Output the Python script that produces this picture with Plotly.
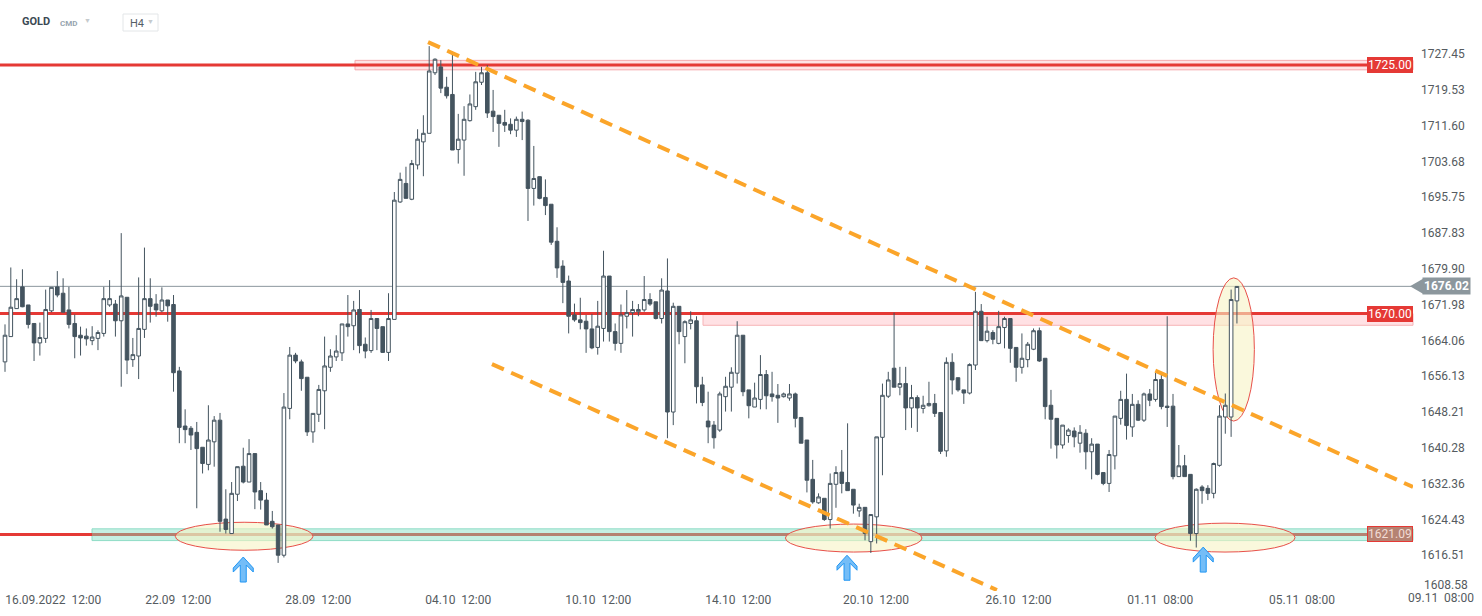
import plotly.graph_objects as go

# ---------------- data (H4 GOLD candles) ----------------
opens = [1659.3,1664.9,1671.1,1675.9,1671.9,1667.8,1663.5,1664.5,1670.6,1675.9,1674.5,1670.8,1667.8,1665.2,1665.0,1664.0,1664.5,1665.6,1671.9,1672.1,
 1668.4,1673.6,1659.8,1660.6,1666.5,1673.3,1672.1,1670.6,1673.0,1672.0,1657.3,1645.1,1644.6,1643.7,1640.4,1636.6,1641.6,1646.4,1624.5,1621.3,
 1630.0,1636.2,1632.7,1639.0,1630.8,1628.7,1624.0,1623.2,1616.5,1649.0,1660.8,1659.3,1655.9,1643.8,1647.7,1652.9,1658.1,1660.4,1661.3,1667.7,
 1667.3,1670.9,1663.2,1661.8,1668.9,1667.1,1661.4,1668.7,1694.7,1698.8,1695.3,1702.9,1708.0,1709.9,1723.3,1724.6,1720.1,1718.5,1706.3,1708.4,
 1712.7,1715.8,1721.2,1723.3,1714.8,1713.9,1712.3,1711.9,1710.6,1713.0,1712.8,1697.7,1700.3,1695.7,1694.2,1686.0,1680.5,1677.2,1669.7,1668.6,
 1668.3,1666.6,1662.5,1666.7,1678.3,1666.0,1663.4,1669.4,1670.2,1670.4,1670.8,1673.1,1672.6,1668.9,1675.0,1648.2,1671.6,1664.9,1667.8,1668.4,
 1654.2,1646.2,1645.3,1644.2,1651.6,1653.7,1656.8,1665.2,1653.1,1649.3,1651.0,1656.5,1652.2,1651.9,1651.6,1651.3,1652.2,1647.0,1642.0,1633.3,
 1628.1,1629.1,1624.4,1632.2,1634.9,1632.6,1631.1,1626.3,1627.1,1619.5,1625.0,1642.6,1651.7,1657.9,1653.7,1654.5,1649.1,1651.4,1649.0,1649.6,
 1650.1,1648.1,1639.6,1659.2,1655.8,1653.1,1652.4,1658.6,1670.5,1664.0,1665.8,1663.4,1666.9,1668.9,1662.5,1658.1,1659.8,1662.1,1666.2,1660.1,
 1649.7,1646.8,1640.9,1643.0,1644.0,1641.3,1643.5,1639.4,1641.1,1634.8,1632.4,1638.5,1646.8,1651.0,1644.9,1649.9,1646.4,1652.2,1651.0,1655.4,
 1649.5,1649.5,1633.9,1636.3,1634.4,1621.3,1631.6,1631.3,1630.2,1636.4,1647.1,1647.1,1672.8]
highs = [1667.6,1680.2,1677.6,1679.8,1671.9,1667.8,1668.0,1675.3,1675.8,1679.4,1677.8,1675.9,1669.8,1667.1,1666.7,1667.2,1666.3,1675.9,1677.4,1673.0,
 1687.8,1673.6,1664.6,1678.0,1684.6,1677.8,1674.3,1675.8,1673.0,1674.1,1658.2,1648.8,1645.1,1646.0,1640.4,1649.7,1647.3,1648.0,1631.1,1632.7,
 1636.1,1640.3,1642.2,1639.0,1632.7,1630.3,1626.3,1623.2,1652.4,1662.6,1661.3,1659.8,1655.9,1647.9,1654.2,1664.9,1662.1,1665.2,1667.7,1674.1,
 1672.8,1675.2,1664.7,1670.8,1668.9,1667.1,1674.5,1696.9,1701.2,1702.5,1704.0,1710.8,1713.9,1729.2,1726.5,1726.1,1722.4,1728.0,1714.2,1715.9,
 1718.5,1723.5,1724.6,1725.0,1719.5,1713.9,1715.1,1713.2,1713.6,1714.7,1713.0,1707.1,1700.4,1699.7,1694.2,1689.1,1681.8,1678.4,1672.2,1673.5,
 1669.7,1669.9,1672.8,1683.9,1678.3,1667.8,1672.0,1675.2,1672.8,1672.1,1678.3,1674.5,1672.6,1677.8,1682.2,1672.4,1671.6,1668.5,1670.5,1669.4,
 1656.0,1652.7,1646.2,1652.7,1656.0,1658.1,1668.3,1665.2,1653.1,1654.7,1660.8,1657.5,1657.1,1654.4,1652.5,1654.4,1652.5,1647.0,1642.0,1637.6,
 1630.2,1629.1,1634.6,1636.2,1639.8,1645.7,1631.1,1627.9,1627.1,1625.5,1642.7,1654.5,1657.1,1670.2,1658.2,1658.2,1654.2,1651.9,1651.8,1654.9,
 1652.2,1648.1,1660.3,1661.2,1655.8,1653.1,1659.0,1674.8,1672.1,1669.3,1666.3,1670.6,1669.3,1668.9,1662.5,1665.6,1663.7,1666.7,1666.9,1660.1,
 1653.1,1646.8,1645.3,1644.6,1644.8,1645.3,1644.4,1642.4,1641.1,1634.8,1639.8,1647.3,1652.9,1656.7,1652.2,1650.8,1652.5,1653.3,1656.9,1656.7,
 1669.4,1652.2,1640.9,1638.7,1634.4,1631.3,1632.0,1632.0,1637.0,1649.7,1652.3,1675.3,1676.0]
lows = [1657.1,1664.9,1671.1,1671.4,1666.7,1659.5,1660.7,1663.5,1670.3,1673.6,1670.3,1666.7,1660.1,1660.7,1662.9,1663.0,1661.9,1664.9,1671.5,1664.9,
 1653.8,1656.6,1658.2,1655.5,1664.6,1668.0,1669.3,1670.3,1668.2,1652.7,1641.3,1641.3,1639.8,1626.9,1634.6,1635.3,1636.1,1621.7,1621.3,1621.3,
 1628.5,1632.4,1632.7,1626.7,1626.6,1623.2,1622.4,1614.8,1616.0,1646.6,1659.0,1652.9,1642.9,1641.4,1646.0,1644.4,1657.1,1659.5,1659.5,1664.9,
 1661.9,1661.2,1660.1,1661.3,1661.9,1661.3,1659.5,1668.7,1694.5,1695.5,1695.1,1701.9,1700.4,1709.9,1722.8,1718.8,1717.6,1706.2,1703.2,1700.5,
 1712.5,1715.1,1720.6,1713.3,1710.2,1706.9,1710.2,1709.7,1709.1,1708.4,1690.5,1693.9,1695.3,1691.8,1685.2,1677.9,1672.3,1665.6,1668.2,1666.5,
 1661.3,1662.1,1660.9,1663.8,1663.8,1661.8,1661.3,1666.7,1664.9,1669.4,1670.4,1671.7,1668.7,1667.8,1642.4,1645.3,1663.2,1659.0,1666.5,1650.1,
 1649.5,1641.3,1640.1,1643.8,1648.3,1648.3,1654.5,1651.7,1646.8,1649.3,1648.8,1648.8,1650.5,1645.8,1651.4,1650.7,1644.8,1641.3,1630.4,1627.9,
 1627.9,1624.1,1622.4,1627.0,1630.2,1630.8,1625.7,1625.0,1619.8,1617.0,1619.1,1634.2,1651.3,1653.7,1651.9,1644.2,1644.7,1643.8,1647.9,1649.4,
 1647.1,1638.9,1638.3,1652.1,1652.7,1650.0,1652.1,1657.5,1664.0,1663.6,1663.2,1663.2,1662.3,1659.1,1654.9,1656.7,1658.1,1661.9,1659.3,1646.6,
 1640.1,1637.9,1640.1,1641.4,1640.4,1639.2,1635.5,1633.3,1634.2,1632.0,1630.5,1635.5,1645.4,1642.1,1642.7,1646.2,1646.0,1649.5,1650.5,1648.8,
 1644.9,1633.3,1633.9,1633.9,1619.7,1618.2,1627.9,1628.7,1629.1,1636.1,1643.4,1642.7,1667.8]
closes = [1665.2,1671.4,1673.3,1671.5,1667.6,1663.5,1664.7,1670.9,1675.8,1674.1,1670.3,1667.6,1664.9,1664.6,1664.4,1664.8,1665.8,1673.3,1673.3,1668.4,
 1673.9,1659.7,1660.9,1666.7,1673.3,1671.6,1670.8,1673.0,1671.7,1656.9,1644.8,1644.3,1643.1,1640.1,1636.8,1642.0,1646.4,1624.0,1622.2,1630.2,
 1636.1,1632.7,1639.0,1630.5,1628.7,1623.2,1622.8,1616.5,1649.3,1660.8,1659.5,1655.6,1643.8,1647.9,1653.2,1658.4,1660.6,1661.7,1667.7,1667.1,
 1670.8,1662.9,1661.7,1668.9,1666.7,1661.4,1668.9,1695.1,1699.7,1695.5,1703.2,1708.6,1709.9,1723.7,1726.3,1719.9,1718.2,1706.2,1708.6,1713.0,
 1716.4,1721.3,1723.3,1714.4,1713.6,1712.1,1711.7,1710.6,1713.0,1712.5,1697.7,1699.9,1695.5,1693.9,1685.8,1680.1,1676.9,1669.4,1668.6,1668.0,
 1666.6,1662.4,1667.2,1678.3,1666.0,1663.4,1669.7,1670.2,1670.9,1670.9,1673.1,1672.1,1668.9,1675.2,1648.2,1671.6,1666.0,1668.2,1668.6,1653.8,
 1650.3,1644.9,1642.5,1652.2,1653.9,1657.0,1665.2,1652.7,1649.6,1651.3,1656.5,1651.8,1651.6,1651.3,1652.2,1652.2,1646.8,1641.3,1633.1,1628.3,
 1629.4,1624.4,1632.4,1634.8,1632.4,1630.8,1627.6,1627.1,1621.3,1625.5,1642.7,1651.9,1655.3,1653.7,1654.5,1649.1,1651.4,1649.1,1649.7,1650.1,
 1647.9,1639.5,1659.2,1655.3,1653.1,1652.4,1658.7,1670.5,1664.0,1666.1,1664.3,1667.1,1668.9,1662.3,1658.1,1660.1,1663.2,1666.2,1659.5,1649.4,
 1646.6,1640.9,1645.3,1644.2,1642.7,1643.7,1639.4,1641.1,1634.4,1632.4,1638.8,1647.3,1651.0,1645.2,1649.9,1646.4,1652.2,1650.8,1655.4,1649.4,
 1649.2,1633.9,1636.3,1633.9,1621.3,1631.1,1630.8,1630.2,1636.8,1647.3,1649.7,1673.1,1676.0]
bars = list(range(len(closes)))

# x-axis labels (bar index positions) and y-axis labels
date_pos = [8.3, 29.8, 53.9, 78.0, 102.1, 126.2, 149.9, 174.4, 198.8, 223.2]
date_text = ["16.09.2022\u00a0 12:00", "22.09\u00a0 12:00", "28.09\u00a0 12:00", "04.10\u00a0 12:00",
             "10.10\u00a0 12:00", "14.10\u00a0 12:00", "20.10\u00a0 12:00", "26.10\u00a0 12:00",
             "01.11\u00a0 08:00", "05.11\u00a0 08:00"]
last_date_text = "09.11\u00a0 08:00"
price_ticks = [1616.51, 1624.43, 1632.36, 1640.28, 1648.21, 1656.13, 1664.06,
               1671.98, 1679.90, 1687.83, 1695.75, 1703.68, 1711.60, 1719.53, 1727.45]
bottom_price_label = 1608.58

# horizontal levels / drawing objects
resistance_top = 1725.00
resistance_mid = 1670.00
support = 1621.09
last_price = 1676.02
upper_trend = [(72.8, 1730.1), (242.3, 1631.6)]
lower_trend = [(83.8, 1658.8), (170.7, 1608.8)]
ellipses = [(29.3, 53.0, 1617.6, 1623.8), (134.3, 157.8, 1617.2, 1623.4),
            (197.9, 222.0, 1617.2, 1623.6), (207.9, 215.0, 1646.2, 1677.9)]
arrow_tips = [(41.0, 1616.1), (144.9, 1616.5), (206.2, 1618.3)]

# ---------------- figure ----------------
W, H = 1482, 616
PLOT_W, PLOT_H = 1413, 591
CANDLE = "#44545f"
RED = "#e53935"
ORANGE = "#fba52a"
TXT = "#555b60"
FONT = "Roboto, Arial, sans-serif"


def px(x):
    return x / PLOT_W


def py(y):
    return 1 - y / PLOT_H


fig = go.Figure()
fig.add_trace(go.Candlestick(
    x=bars, open=opens, high=highs, low=lows, close=closes,
    increasing=dict(line=dict(color=CANDLE, width=1), fillcolor="#ffffff"),
    decreasing=dict(line=dict(color=CANDLE, width=1), fillcolor=CANDLE),
    whiskerwidth=0, showlegend=False, hoverinfo="skip"))

shapes = []
# 1725 zone
shapes.append(dict(type="rect", xref="paper", yref="y", x0=px(355), x1=1,
                   y0=resistance_top - 1.05, y1=resistance_top + 1.05,
                   fillcolor="rgba(255,190,195,0.45)", line=dict(color="#f5a9ad", width=1), layer="below"))
shapes.append(dict(type="line", xref="paper", yref="y", x0=0, x1=1, y0=resistance_top, y1=resistance_top,
                   line=dict(color=RED, width=3), layer="below"))
# 1670 zone
shapes.append(dict(type="rect", xref="paper", yref="y", x0=px(703), x1=1,
                   y0=resistance_mid - 2.6, y1=resistance_mid,
                   fillcolor="rgba(255,200,205,0.55)", line=dict(color="#f6b3b6", width=1), layer="below"))
shapes.append(dict(type="line", xref="paper", yref="y", x0=0, x1=1, y0=resistance_mid, y1=resistance_mid,
                   line=dict(color=RED, width=3), layer="below"))
# support zone 1621.09
shapes.append(dict(type="rect", xref="paper", yref="y", x0=px(92), x1=1,
                   y0=support - 1.35, y1=support + 1.25,
                   fillcolor="rgba(150,228,205,0.55)", line=dict(color="#8fdcc6", width=1), layer="below"))
shapes.append(dict(type="line", xref="paper", yref="y", x0=0, x1=px(92), y0=support, y1=support,
                   line=dict(color=RED, width=3), layer="below"))
shapes.append(dict(type="line", xref="paper", yref="y", x0=px(92), x1=1, y0=support, y1=support,
                   line=dict(color="#b58272", width=3), layer="below"))
# last price line
shapes.append(dict(type="line", xref="paper", yref="y", x0=0, x1=1, y0=last_price, y1=last_price,
                   line=dict(color="#8c979d", width=1), layer="below"))
# ellipses
for (a, b, c, d) in ellipses:
    shapes.append(dict(type="circle", xref="x", yref="y", x0=a, x1=b, y0=c, y1=d,
                       fillcolor="rgba(246,243,196,0.6)", line=dict(color="#e8504a", width=1), layer="below"))
# orange trend lines
for seg in (upper_trend, lower_trend):
    shapes.append(dict(type="line", xref="x", yref="y", x0=seg[0][0], y0=seg[0][1], x1=seg[1][0], y1=seg[1][1],
                       line=dict(color=ORANGE, width=4, dash="13px,8px"), layer="above"))
# blue arrows
arrow_path = "M 0 0 L 10 -11 L 10 -15 L 3 -8 L 3 -25 L -3 -25 L -3 -8 L -10 -15 L -10 -11 Z"
for (ax_, ay_) in arrow_tips:
    shapes.append(dict(type="path", xref="x", yref="y", xsizemode="pixel", ysizemode="pixel",
                       xanchor=ax_, yanchor=ay_, path=arrow_path,
                       fillcolor="#74bdf7", line=dict(color="#2196f3", width=1), layer="above"))
# last price badge arrow
shapes.append(dict(type="path", xref="paper", yref="y", xsizemode="pixel", ysizemode="pixel",
                   xanchor=1, yanchor=last_price, path="M -3 0 L 10 7.5 L 10 -7.5 Z",
                   fillcolor="#8c979d", line=dict(width=0)))
# header H4 box
shapes.append(dict(type="rect", xref="paper", yref="paper", x0=px(123), x1=px(158), y0=py(31), y1=py(14),
                   line=dict(color="#e3e6e8", width=1), fillcolor="rgba(0,0,0,0)"))

annotations = []
annotations.append(dict(xref="paper", yref="paper", x=px(20), y=py(22), xanchor="left", yanchor="middle",
                        text="<b>GOLD</b>", showarrow=False, font=dict(family=FONT, size=11, color="#3b4954")))
annotations.append(dict(xref="paper", yref="paper", x=px(58), y=py(23), xanchor="left", yanchor="middle",
                        text="<b>CMD</b>", showarrow=False, font=dict(family=FONT, size=8, color="#97a5b0")))
annotations.append(dict(xref="paper", yref="paper", x=px(87), y=py(21), xanchor="center", yanchor="middle",
                        text="\u25BC", showarrow=False, font=dict(family=FONT, size=7, color="#c5cacd")))
annotations.append(dict(xref="paper", yref="paper", x=px(128), y=py(23), xanchor="left", yanchor="middle",
                        text="H4", showarrow=False, font=dict(family=FONT, size=11, color="#555e66")))
annotations.append(dict(xref="paper", yref="paper", x=px(150), y=py(22), xanchor="center", yanchor="middle",
                        text="\u25BC", showarrow=False, font=dict(family=FONT, size=7, color="#c5cacd")))
# level badges
for lvl, bg, fc, bc in [(resistance_top, RED, "#ffffff", RED), (resistance_mid, RED, "#ffffff", RED),
                        (support, "#b58272", "#f2dcd5", RED)]:
    annotations.append(dict(xref="paper", yref="y", x=1, y=lvl, xanchor="right", yanchor="middle",
                            text=f"{lvl:.2f}", showarrow=False, bgcolor=bg, bordercolor=bc, borderwidth=1,
                            borderpad=0, font=dict(family=FONT, size=12, color=fc)))
annotations.append(dict(xref="paper", yref="y", x=1, y=last_price, xanchor="left", yanchor="middle", xshift=9,
                        text=f"<b>{last_price:.2f}</b>", showarrow=False, bgcolor="#8c979d", borderpad=1,
                        font=dict(family=FONT, size=12, color="#ffffff")))
annotations.append(dict(xref="paper", yref="paper", x=px(1422), y=py(585), xanchor="left", yanchor="middle",
                        text=f"{bottom_price_label:.2f}", showarrow=False, font=dict(family=FONT, size=12, color=TXT)))
annotations.append(dict(xref="paper", yref="paper", x=px(1476), y=py(598), xanchor="right", yanchor="middle",
                        text=last_date_text, showarrow=False, font=dict(family=FONT, size=12, color=TXT)))

fig.update_layout(
    width=W, height=H, margin=dict(l=0, r=W - PLOT_W, t=0, b=H - PLOT_H),
    paper_bgcolor="#ffffff", plot_bgcolor="#ffffff", showlegend=False,
    boxgap=0.12, shapes=shapes, annotations=annotations,
    xaxis=dict(range=[-0.86, 242.3], showgrid=False, zeroline=False, showline=False,
               rangeslider=dict(visible=False), tickmode="array", tickvals=date_pos, ticktext=date_text,
               ticks="", tickfont=dict(family=FONT, size=12, color=TXT)),
    yaxis=dict(range=[1608.58, 1739.41], side="right", showgrid=False, zeroline=False, showline=False,
               tickmode="array", tickvals=price_ticks, ticktext=[f"{v:.2f}" for v in price_ticks],
               ticks="", ticklabelstandoff=7, tickfont=dict(family=FONT, size=12, color=TXT)),
)

fig.write_html("out.html", config={"displayModeBar": False},
               post_script="document.body.style.margin='0';document.body.style.padding='0';document.body.style.overflow='hidden';")
